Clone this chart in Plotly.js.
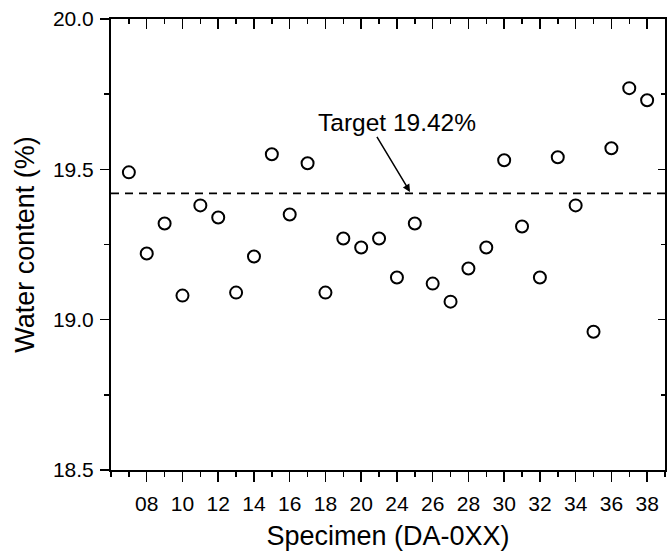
<!DOCTYPE html>
<html>
<head>
<meta charset="utf-8">
<script src="https://cdn.plot.ly/plotly-3.0.1.min.js"></script>
<style>html,body{margin:0;padding:0;background:#fff;}#chart{width:669px;height:559px;}</style>
</head>
<body>
<div id="chart"></div>
<script>
// Specimen IDs in plotted order (the one between 20 and 24 is unlabeled on the axis)
const specimens = ['07','08','09','10','11','12','13','14','15','16','17','18','19','20','21',
                   '24','25','26','27','28','29','30','31','32','33','34','35','36','37','38'];
// Water content (%) per specimen
const waterContent = [19.49,19.22,19.32,19.08,19.38,19.34,19.09,19.21,19.55,19.35,19.52,19.09,19.27,19.24,19.27,
                      19.14,19.32,19.12,19.06,19.17,19.24,19.53,19.31,19.14,19.54,19.38,18.96,19.57,19.77,19.73];
// Axis tick labels
const xTickLabels = ['08','10','12','14','16','18','20','24','26','28','30','32','34','36','38'];
const targetValue = 19.42;

const xPos = specimens.map((s, i) => i);
const xTickVals = xTickLabels.map(l => specimens.indexOf(l));

const FONT = 'Liberation Sans, Arial, sans-serif';
const xRange = [-1, specimens.length];
const yRange = [18.5, 20.0];

const traces = [
  {
    x: xPos, y: waterContent, type: 'scatter', mode: 'markers',
    marker: {symbol: 'circle-open', size: 12, color: '#000', line: {width: 2, color: '#000'}},
    showlegend: false, hoverinfo: 'skip'
  },
  {
    x: xPos, y: waterContent, xaxis: 'x2', yaxis: 'y2', type: 'scatter', mode: 'markers',
    marker: {size: 1, opacity: 0}, showlegend: false, hoverinfo: 'skip'
  }
];

function xAx(inside) {
  return {
    range: xRange, showgrid: false, zeroline: false,
    tickmode: 'array', tickvals: xTickVals, ticktext: xTickLabels,
    ticks: inside ? 'inside' : 'outside', ticklen: 9.5, tickwidth: 1.5, tickcolor: '#000',
    minor: {dtick: 1, tick0: -1, ticks: inside ? 'inside' : 'outside',
            ticklen: 5, tickwidth: 1.5, tickcolor: '#000', showgrid: false},
    showline: true, linewidth: 2, linecolor: '#000', fixedrange: true
  };
}
function yAx(inside) {
  return {
    range: yRange, showgrid: false, zeroline: false,
    tickmode: 'linear', tick0: 18.5, dtick: 0.5, tickformat: '.1f',
    ticks: inside ? 'inside' : 'outside', ticklen: inside ? 7 : 9, tickwidth: 1.5, tickcolor: '#000',
    minor: {dtick: 0.25, tick0: 18.5, ticks: inside ? 'inside' : 'outside',
            ticklen: inside ? 4 : 5, tickwidth: 1.5, tickcolor: '#000', showgrid: false},
    showline: true, linewidth: 2, linecolor: '#000', fixedrange: true
  };
}

const xaxis = Object.assign(xAx(false), {
  tickfont: {family: FONT, size: 21, color: '#000'},
  ticklabelstandoff: 4,
  title: {text: 'Specimen (DA-0XX)', font: {family: FONT, size: 27, color: '#000'}, standoff: 12}
});
const yaxis = Object.assign(yAx(false), {
  tickfont: {family: FONT, size: 21, color: '#000'},
  ticklabelstandoff: 2,
  title: {text: 'Water content (%)', font: {family: FONT, size: 27, color: '#000'}, standoff: 10}
});
const xaxis2 = Object.assign(xAx(true), {overlaying: 'x', side: 'top', anchor: 'y2', showticklabels: false});
const yaxis2 = Object.assign(yAx(true), {overlaying: 'y', side: 'right', anchor: 'x2', showticklabels: false});

const layout = {
  width: 669, height: 559,
  margin: {l: 111, r: 4, t: 19, b: 89},
  paper_bgcolor: '#fff', plot_bgcolor: '#fff',
  font: {family: FONT, color: '#000'},
  showlegend: false,
  xaxis: xaxis, yaxis: yaxis, xaxis2: xaxis2, yaxis2: yaxis2,
  shapes: [
    {type: 'line', xref: 'paper', yref: 'y', x0: 0, x1: 1, y0: targetValue, y1: targetValue,
     line: {color: '#000', width: 1.8, dash: '8px,6px'}}
  ],
  annotations: [
    {xref: 'x', yref: 'y', x: 14.98, y: 19.655, text: 'Target ' + targetValue.toFixed(2) + '%',
     showarrow: false, xanchor: 'center', yanchor: 'middle',
     font: {family: FONT, size: 24.5, color: '#000'}},
    {xref: 'x', yref: 'y', axref: 'x', ayref: 'y', x: 15.73, y: targetValue + 0.005, ax: 13.83, ay: 19.613,
     text: '', showarrow: true, arrowhead: 2, arrowsize: 1, arrowwidth: 1.5, arrowcolor: '#000', standoff: 0}
  ]
};

Plotly.newPlot('chart', traces, layout, {displayModeBar: false, staticPlot: true});
</script>
</body>
</html>
